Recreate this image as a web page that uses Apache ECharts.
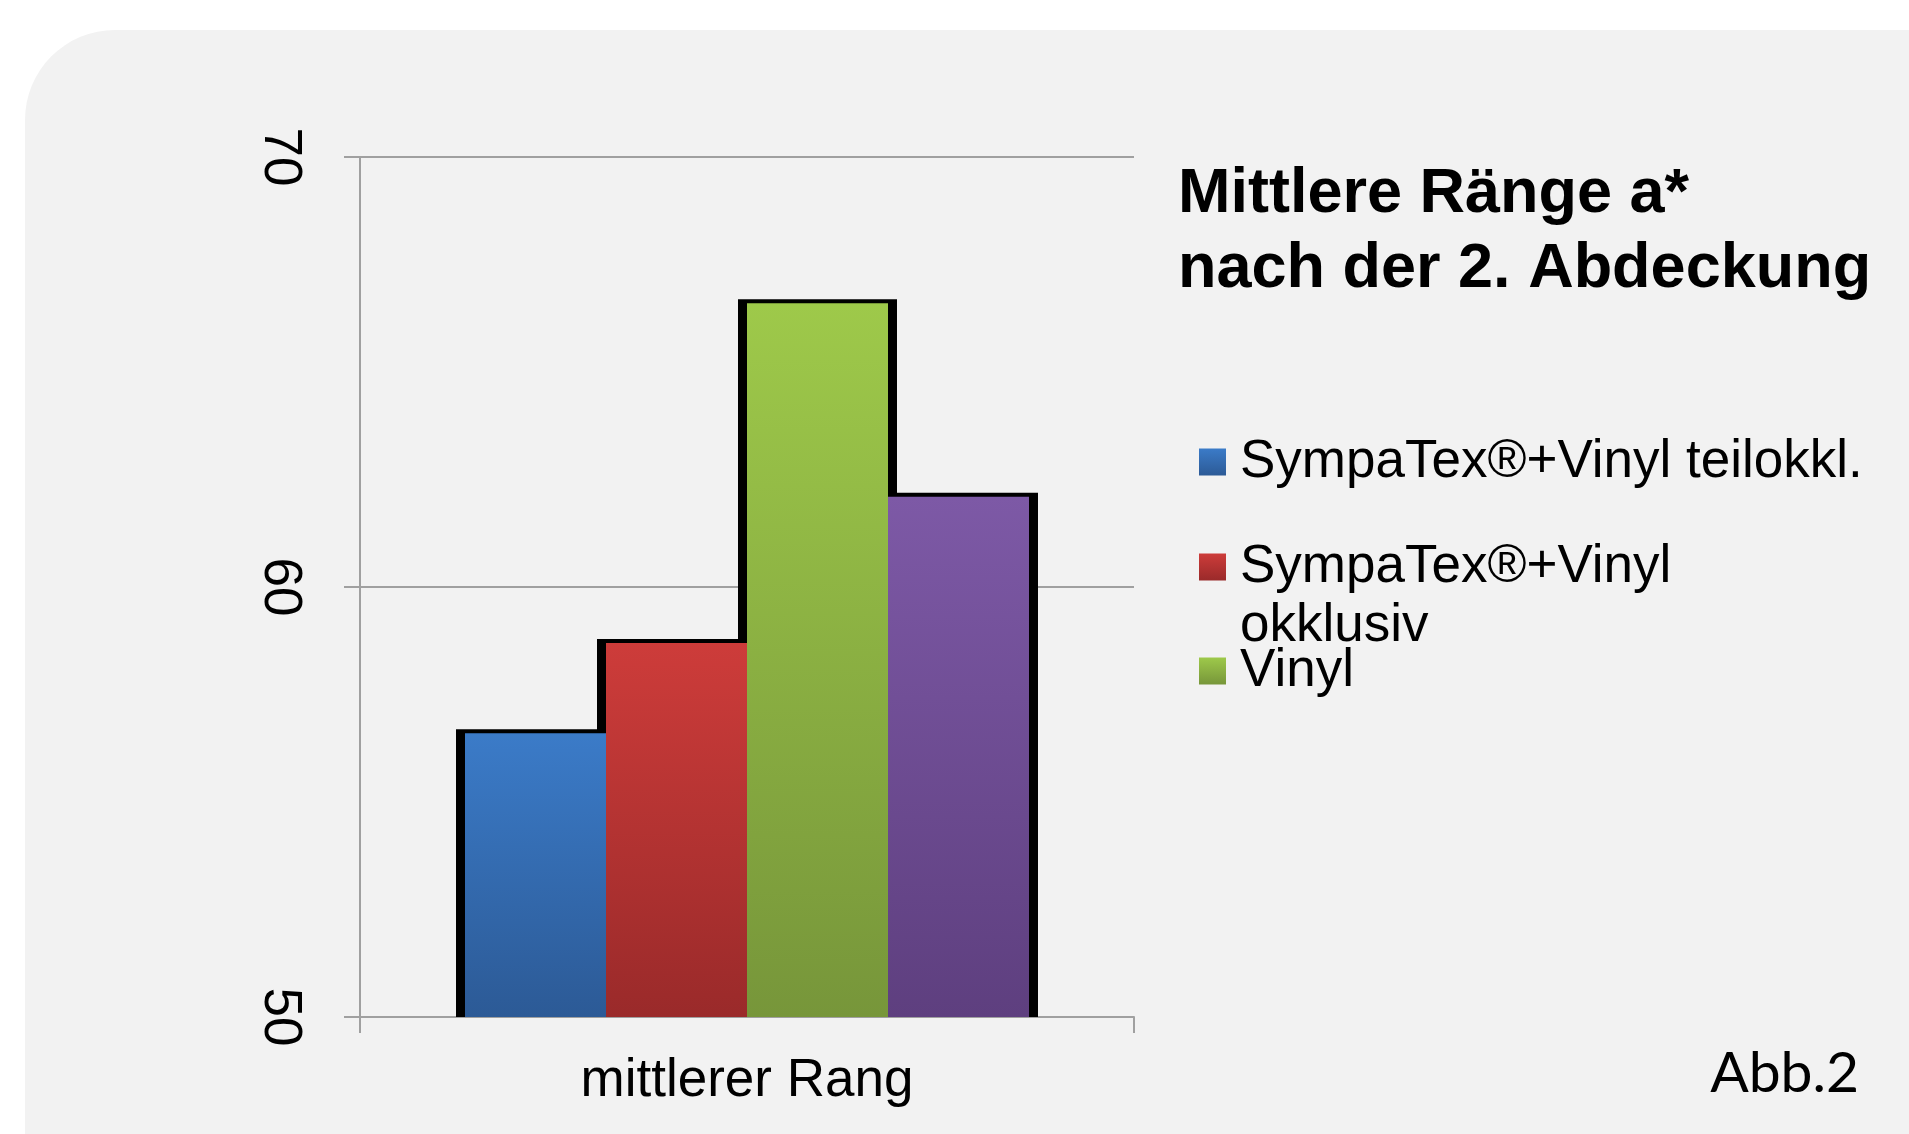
<!DOCTYPE html>
<html>
<head>
<meta charset="utf-8">
<title>Mittlere Ränge a*</title>
<script src="https://cdn.jsdelivr.net/npm/echarts@6/dist/echarts.min.js"></script>
<style>
  html, body { margin: 0; padding: 0; background: #ffffff; }
  #main { width: 1909px; height: 1134px; }
</style>
</head>
<body>
<div id="main"></div>
<script>
// Daten
var categories = ['mittlerer Rang'];
var seriesNames = ['SympaTex®+Vinyl teilokkl.', 'SympaTex®+Vinyl okklusiv', 'Vinyl', 'Vinyl 2'];
var values = [56.6, 58.7, 66.6, 62.1];
var legendNames = ['SympaTex®+Vinyl teilokkl.', 'SympaTex®+Vinyl okklusiv', 'Vinyl'];
var yTicks = [50, 60, 70];

var farben = [
    ['#3b7bc8', '#2c5a96'],
    ['#cd3c3a', '#9a2a2a'],
    ['#9ec94a', '#77963a'],
    ['#7d59a6', '#5e3f7f']
];

var myChart = echarts.init(document.getElementById('main'));

function verlauf(c) {
    return new echarts.graphic.LinearGradient(0, 0, 0, 1, [
        { offset: 0, color: c[0] },
        { offset: 1, color: c[1] }
    ]);
}

var schrift = 'Liberation Sans, Arial, sans-serif';
var barW = 141;
var rand = 9;               // schwarzer Rand seitlich (px)
var randOben = 4 / 43;      // schwarzer Rand oben, in Achseneinheiten (43 px je Einheit)

var series = [];
// schwarze Umrandung (hinten)
seriesNames.forEach(function (name, i) {
    series.push({
        name: 'rahmen' + i,
        type: 'bar',
        xAxisIndex: 1,
        barWidth: barW + 2 * rand,
        barGap: ((barW / (barW + 2 * rand) - 1) * 100).toFixed(3) + '%',
        data: [values[i] + randOben],
        z: 2,
        silent: true,
        itemStyle: { color: '#000' }
    });
});
// farbige Balken (vorne)
seriesNames.forEach(function (name, i) {
    series.push({
        name: name,
        type: 'bar',
        xAxisIndex: 0,
        barWidth: barW,
        barGap: '0%',
        data: [values[i]],
        z: 3,
        itemStyle: { color: verlauf(farben[i]) }
    });
});

var zeile = 59;

function legende(name, mitte, text, zeilen) {
    return {
        data: [name],
        left: 1199,
        top: mitte - zeilen * zeile / 2,
        orient: 'vertical',
        padding: 0,
        icon: 'rect',
        itemWidth: 27,
        itemHeight: 27,
        selectedMode: false,
        formatter: function () { return text; },
        textStyle: {
            fontFamily: schrift,
            fontSize: 53,
            color: '#000',
            lineHeight: zeile,
            padding: [0, 0, 0, 9]
        }
    };
}

var option = {
    backgroundColor: '#ffffff',
    animation: false,
    graphic: [{
        type: 'rect',
        z: -100,
        shape: { x: 25, y: 30, width: 2000, height: 1300, r: 90 },
        style: { fill: '#f2f2f2' }
    }],
    title: [{
        text: 'Mittlere Ränge a*\nnach der 2. Abdeckung',
        left: 1178,
        top: 157,
        padding: 0,
        textStyle: {
            fontFamily: schrift,
            fontWeight: 'bold',
            fontSize: 63,
            lineHeight: 75,
            color: '#000'
        }
    }, {
        text: 'Abb.2',
        right: 50,
        top: 1045,
        padding: 0,
        textStyle: {
            fontFamily: 'Lato, sans-serif',
            fontWeight: 'normal',
            fontSize: 57,
            color: '#000'
        }
    }],
    legend: [
        legende(legendNames[0], 462, 'SympaTex®+Vinyl teilokkl.', 1),
        legende(legendNames[1], 567, '\nSympaTex®+Vinyl\nokklusiv', 3),
        legende(legendNames[2], 671, 'Vinyl', 1)
    ],
    grid: {
        left: 360,
        right: 775,
        top: 157,
        bottom: 117,
        containLabel: false
    },
    xAxis: [{
        type: 'category',
        data: categories,
        axisLine: { show: true, lineStyle: { color: '#a0a0a0', width: 2 } },
        axisTick: { show: true, length: 16, lineStyle: { color: '#a0a0a0', width: 2 } },
        axisLabel: { fontFamily: schrift, fontSize: 53, color: '#000', margin: 38 }
    }, {
        type: 'category',
        data: categories,
        show: false
    }],
    yAxis: {
        type: 'value',
        min: 50,
        max: 70,
        interval: 10,
        axisLine: { show: true, lineStyle: { color: '#a0a0a0', width: 2 } },
        axisTick: { show: true, length: 16, lineStyle: { color: '#a0a0a0', width: 2 } },
        splitLine: { show: true, lineStyle: { color: '#a0a0a0', width: 2 } },
        axisLabel: {
            fontFamily: schrift,
            fontSize: 53,
            color: '#000',
            rotate: -90,
            margin: 54,
            formatter: function (v) { return yTicks.indexOf(v) >= 0 ? String(v) : ''; }
        }
    },
    series: series
};

myChart.setOption(option);
</script>
</body>
</html>
